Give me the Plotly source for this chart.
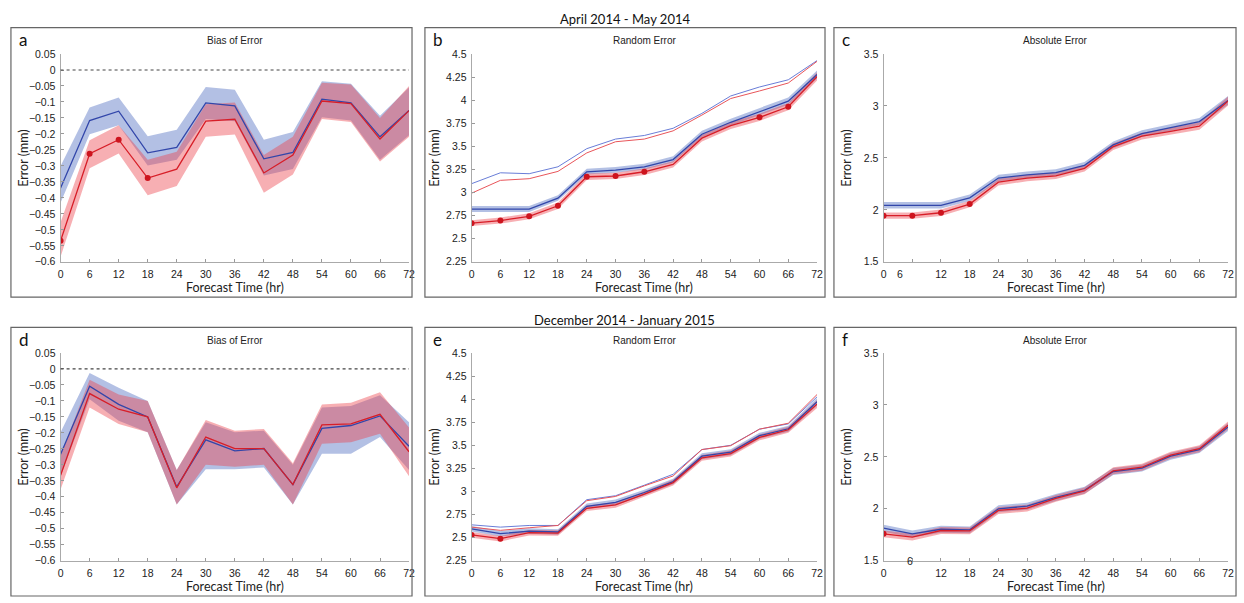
import plotly.graph_objects as go

# ---------------- data ----------------
hours = [0, 6, 12, 18, 24, 30, 36, 42, 48, 54, 60, 66, 72]

# (a) Bias of Error, April-May 2014
a_blue = [-0.369, -0.158, -0.129, -0.259, -0.242, -0.103, -0.112, -0.278, -0.258, -0.091, -0.103, -0.209, -0.127]
a_blue_hi = [-0.300, -0.117, -0.086, -0.207, -0.187, -0.053, -0.062, -0.218, -0.194, -0.035, -0.043, -0.143, -0.055]
a_blue_lo = [-0.415, -0.201, -0.173, -0.299, -0.281, -0.153, -0.160, -0.330, -0.310, -0.148, -0.158, -0.281, -0.204]
a_red = [-0.534, -0.262, -0.218, -0.338, -0.310, -0.160, -0.154, -0.322, -0.266, -0.097, -0.105, -0.216, -0.127]
a_red_hi = [-0.476, -0.220, -0.173, -0.281, -0.256, -0.107, -0.102, -0.266, -0.209, -0.040, -0.045, -0.150, -0.050]
a_red_lo = [-0.584, -0.307, -0.261, -0.392, -0.363, -0.209, -0.202, -0.384, -0.327, -0.153, -0.163, -0.286, -0.209]
a_sig = [0, 6, 12, 18]

# (b) Random Error, April-May 2014
b_blue_up = [3.096, 3.214, 3.204, 3.279, 3.475, 3.579, 3.618, 3.696, 3.857, 4.046, 4.143, 4.221, 4.429]
b_red_up = [2.993, 3.132, 3.150, 3.229, 3.429, 3.550, 3.579, 3.668, 3.839, 4.018, 4.100, 4.186, 4.421]
b_blue = [2.821, 2.821, 2.821, 2.939, 3.225, 3.243, 3.279, 3.357, 3.632, 3.761, 3.875, 3.989, 4.279]
b_blue_lo = [2.790, 2.790, 2.790, 2.910, 3.195, 3.213, 3.249, 3.325, 3.598, 3.725, 3.838, 3.952, 4.235]
b_blue_hi = [2.853, 2.853, 2.853, 2.970, 3.258, 3.276, 3.312, 3.392, 3.668, 3.800, 3.915, 4.030, 4.322]
b_red = [2.668, 2.696, 2.743, 2.857, 3.171, 3.179, 3.225, 3.304, 3.589, 3.725, 3.814, 3.929, 4.257]
b_red_lo = [2.637, 2.664, 2.710, 2.822, 3.137, 3.146, 3.191, 3.270, 3.552, 3.688, 3.776, 3.890, 4.212]
b_red_hi = [2.700, 2.729, 2.777, 2.893, 3.206, 3.213, 3.260, 3.340, 3.627, 3.763, 3.853, 3.969, 4.302]
b_sig = [0, 6, 12, 18, 24, 30, 36, 60, 66]

# (c) Absolute Error, April-May 2014
c_blue = [2.044, 2.044, 2.044, 2.116, 2.306, 2.337, 2.359, 2.428, 2.625, 2.734, 2.791, 2.850, 3.053]
c_blue_lo = [2.014, 2.014, 2.014, 2.086, 2.276, 2.307, 2.329, 2.397, 2.594, 2.703, 2.759, 2.817, 3.012]
c_blue_hi = [2.075, 2.075, 2.075, 2.147, 2.337, 2.368, 2.390, 2.460, 2.657, 2.766, 2.824, 2.884, 3.095]
c_red = [1.944, 1.944, 1.972, 2.056, 2.266, 2.306, 2.328, 2.400, 2.609, 2.709, 2.756, 2.806, 3.047]
c_red_lo = [1.914, 1.914, 1.942, 2.025, 2.235, 2.275, 2.297, 2.368, 2.577, 2.677, 2.723, 2.772, 3.005]
c_red_hi = [1.975, 1.975, 2.003, 2.088, 2.298, 2.338, 2.360, 2.432, 2.642, 2.742, 2.790, 2.841, 3.090]
c_sig = [0, 6, 12, 18]

# (d) Bias of Error, Dec 2014 - Jan 2015
d_blue = [-0.267, -0.054, -0.111, -0.150, -0.369, -0.222, -0.256, -0.249, -0.362, -0.186, -0.177, -0.147, -0.242]
d_blue_hi = [-0.198, -0.013, -0.059, -0.100, -0.316, -0.167, -0.198, -0.193, -0.300, -0.121, -0.116, -0.082, -0.167]
d_blue_lo = [-0.336, -0.095, -0.162, -0.198, -0.424, -0.314, -0.314, -0.308, -0.424, -0.265, -0.265, -0.213, -0.316]
d_red = [-0.333, -0.077, -0.126, -0.150, -0.372, -0.213, -0.249, -0.249, -0.362, -0.175, -0.172, -0.142, -0.259]
d_red_hi = [-0.270, -0.034, -0.080, -0.100, -0.316, -0.160, -0.193, -0.188, -0.295, -0.111, -0.106, -0.073, -0.183]
d_red_lo = [-0.377, -0.121, -0.172, -0.198, -0.424, -0.300, -0.306, -0.300, -0.424, -0.234, -0.229, -0.203, -0.336]
d_sig = []

# (e) Random Error, Dec 2014 - Jan 2015
e_blue_up = [2.639, 2.614, 2.632, 2.632, 2.911, 2.954, 3.068, 3.186, 3.454, 3.500, 3.675, 3.732, 4.025]
e_red_up = [2.614, 2.579, 2.607, 2.632, 2.900, 2.946, 3.061, 3.168, 3.454, 3.496, 3.675, 3.739, 4.050]
e_blue = [2.596, 2.543, 2.571, 2.561, 2.839, 2.882, 2.989, 3.107, 3.382, 3.425, 3.604, 3.679, 3.971]
e_blue_lo = [2.566, 2.513, 2.541, 2.531, 2.809, 2.852, 2.959, 3.077, 3.350, 3.393, 3.572, 3.646, 3.930]
e_blue_hi = [2.626, 2.573, 2.601, 2.591, 2.869, 2.912, 3.019, 3.137, 3.414, 3.457, 3.636, 3.712, 4.012]
e_red = [2.530, 2.489, 2.554, 2.550, 2.818, 2.854, 2.971, 3.096, 3.364, 3.411, 3.586, 3.668, 3.946]
e_red_lo = [2.500, 2.459, 2.524, 2.520, 2.788, 2.824, 2.941, 3.066, 3.332, 3.379, 3.554, 3.635, 3.905]
e_red_hi = [2.560, 2.519, 2.584, 2.580, 2.848, 2.884, 3.001, 3.126, 3.396, 3.443, 3.618, 3.701, 3.987]
e_sig = [0, 6]

# (f) Absolute Error, Dec 2014 - Jan 2015
f_blue = [1.813, 1.759, 1.803, 1.797, 2.000, 2.025, 2.109, 2.178, 2.359, 2.391, 2.506, 2.569, 2.788]
f_blue_lo = [1.780, 1.726, 1.770, 1.764, 1.967, 1.992, 2.076, 2.145, 2.326, 2.358, 2.473, 2.536, 2.750]
f_blue_hi = [1.846, 1.792, 1.836, 1.830, 2.033, 2.058, 2.142, 2.211, 2.392, 2.424, 2.539, 2.602, 2.826]
f_red = [1.759, 1.728, 1.791, 1.788, 1.984, 2.006, 2.100, 2.172, 2.366, 2.400, 2.516, 2.578, 2.803]
f_red_lo = [1.726, 1.695, 1.758, 1.755, 1.951, 1.973, 2.067, 2.139, 2.333, 2.367, 2.483, 2.545, 2.765]
f_red_hi = [1.792, 1.761, 1.824, 1.821, 2.017, 2.039, 2.133, 2.205, 2.399, 2.433, 2.549, 2.611, 2.841]
f_sig = [0]

bias_ticks = [0.05, 0, -0.05, -0.1, -0.15, -0.2, -0.25, -0.3, -0.35, -0.4, -0.45, -0.5, -0.55, -0.6]
rand_ticks = [2.25, 2.5, 2.75, 3, 3.25, 3.5, 3.75, 4, 4.25, 4.5]
abs_ticks = [1.5, 2, 2.5, 3, 3.5]

row_titles = ["April 2014 - May 2014", "December 2014 - January 2015"]
panel_titles = ["Bias of Error", "Random Error", "Absolute Error"]
panel_letters = ["a", "b", "c", "d", "e", "f"]

# ---------------- style ----------------
W, H = 1244, 603
BLUE_LINE = "rgb(50,70,170)"
RED_LINE = "rgb(215,30,40)"
BLUE_FILL = "rgba(75,105,190,0.42)"
RED_FILL = "rgba(235,65,75,0.42)"
BLUE_THIN = "rgb(105,125,215)"
RED_THIN = "rgb(232,85,90)"
TICK_FONT = dict(family="Liberation Sans, Arial, sans-serif", size=10.5, color="#222")
LAB_FONT = "Lato, Open Sans, sans-serif"

cols_px = [(58, 409), (472, 820), (887, 1234)]
rows_px = [(49, 261), (354, 566)]
frames_x = [(8, 412), (425, 828), (837, 1242)]
frames_y = [(22, 297), (328, 602)]


def fx(p):
    return p / W


def fy(p):
    return 1 - p / H


def fmt(v):
    s = ("%.2f" % v).rstrip("0").rstrip(".")
    if s == "-0":
        s = "0"
    return s.replace("-", "\u2212")


panels = [
    dict(blue=a_blue, blo=a_blue_lo, bhi=a_blue_hi, red=a_red, rlo=a_red_lo, rhi=a_red_hi, sig=a_sig,
         bup=None, rup=None, ticks=bias_ticks, rng=[-0.6, 0.05], zero=True),
    dict(blue=b_blue, blo=b_blue_lo, bhi=b_blue_hi, red=b_red, rlo=b_red_lo, rhi=b_red_hi, sig=b_sig,
         bup=b_blue_up, rup=b_red_up, ticks=rand_ticks, rng=[2.25, 4.5], zero=False),
    dict(blue=c_blue, blo=c_blue_lo, bhi=c_blue_hi, red=c_red, rlo=c_red_lo, rhi=c_red_hi, sig=c_sig,
         bup=None, rup=None, ticks=abs_ticks, rng=[1.5, 3.5], zero=False),
    dict(blue=d_blue, blo=d_blue_lo, bhi=d_blue_hi, red=d_red, rlo=d_red_lo, rhi=d_red_hi, sig=d_sig,
         bup=None, rup=None, ticks=bias_ticks, rng=[-0.6, 0.05], zero=True),
    dict(blue=e_blue, blo=e_blue_lo, bhi=e_blue_hi, red=e_red, rlo=e_red_lo, rhi=e_red_hi, sig=e_sig,
         bup=e_blue_up, rup=e_red_up, ticks=rand_ticks, rng=[2.25, 4.5], zero=False),
    dict(blue=f_blue, blo=f_blue_lo, bhi=f_blue_hi, red=f_red, rlo=f_red_lo, rhi=f_red_hi, sig=f_sig,
         bup=None, rup=None, ticks=abs_ticks, rng=[1.5, 3.5], zero=False),
]

fig = go.Figure()
shapes = []
annotations = []
layout_axes = {}

for i, p in enumerate(panels):
    n = i + 1
    r, c = divmod(i, 3)
    xa, ya = ("x%d" % n if n > 1 else "x"), ("y%d" % n if n > 1 else "y")

    def add(tr):
        tr.update(xaxis=xa, yaxis=ya, showlegend=False, hoverinfo="skip")
        fig.add_trace(tr)

    add(go.Scatter(x=hours + hours[::-1], y=p["bhi"] + p["blo"][::-1], fill="toself",
                   fillcolor=BLUE_FILL, line=dict(width=0), mode="lines"))
    add(go.Scatter(x=hours + hours[::-1], y=p["rhi"] + p["rlo"][::-1], fill="toself",
                   fillcolor=RED_FILL, line=dict(width=0), mode="lines"))
    if p["bup"] is not None:
        add(go.Scatter(x=hours, y=p["bup"], mode="lines", line=dict(color=BLUE_THIN, width=1)))
        add(go.Scatter(x=hours, y=p["rup"], mode="lines", line=dict(color=RED_THIN, width=1)))
    add(go.Scatter(x=hours, y=p["blue"], mode="lines", line=dict(color=BLUE_LINE, width=1.3)))
    add(go.Scatter(x=hours, y=p["red"], mode="lines", line=dict(color=RED_LINE, width=1.3)))
    if p["sig"]:
        sy = [p["red"][hours.index(h)] for h in p["sig"]]
        add(go.Scatter(x=p["sig"], y=sy, mode="markers",
                       marker=dict(color="rgb(205,20,30)", size=6)))

    x_tickvals = hours
    x_ticktext = [str(h) for h in hours]
    if c == 2:
        x_ticktext = [("" if h == 6 else str(h)) for h in hours]

    layout_axes["xaxis%d" % n if n > 1 else "xaxis"] = dict(
        domain=[fx(cols_px[c][0]), fx(cols_px[c][1])], range=[0, 72], anchor=ya,
        tickvals=x_tickvals, ticktext=x_ticktext, ticks="inside", ticklen=3,
        tickcolor="#999", showline=True, linecolor="#aaa", linewidth=1,
        showgrid=False, zeroline=False, tickfont=TICK_FONT, ticklabelstandoff=3,
        fixedrange=True)
    layout_axes["yaxis%d" % n if n > 1 else "yaxis"] = dict(
        domain=[fy(rows_px[r][1]), fy(rows_px[r][0])], range=p["rng"], anchor=xa,
        tickvals=p["ticks"], ticktext=[fmt(v) for v in p["ticks"]], ticks="inside",
        ticklen=3, tickcolor="#999", showline=True, linecolor="#aaa", linewidth=1,
        showgrid=False, zeroline=False, tickfont=TICK_FONT, ticklabelstandoff=2,
        fixedrange=True)

    if p["zero"]:
        shapes.append(dict(type="line", xref=xa + " domain", yref=ya, x0=0, x1=1, y0=0, y1=0,
                           line=dict(color="#444", width=1.2, dash="dot"), layer="above"))

    # frame
    shapes.append(dict(type="rect", xref="paper", yref="paper",
                       x0=fx(frames_x[c][0]), x1=fx(frames_x[c][1]),
                       y0=fy(frames_y[r][1]), y1=fy(frames_y[r][0]),
                       line=dict(color="#666", width=1.2), fillcolor="rgba(0,0,0,0)"))

    # panel letter
    annotations.append(dict(text=panel_letters[i], xref="paper", yref="paper",
                            x=fx(frames_x[c][0] + 6), y=fy(frames_y[r][0] + 12),
                            xanchor="left", yanchor="middle", showarrow=False,
                            font=dict(family=LAB_FONT, size=17, color="#111")))
    # panel title
    annotations.append(dict(text=panel_titles[c], xref="paper", yref="paper",
                            x=fx((cols_px[c][0] + cols_px[c][1]) / 2), y=fy(frames_y[r][0] + 13),
                            xanchor="center", yanchor="middle", showarrow=False,
                            font=dict(family="Liberation Sans, Arial, sans-serif", size=10, color="#222")))
    # axis titles
    annotations.append(dict(text="Forecast Time (hr)", xref="paper", yref="paper",
                            x=fx((cols_px[c][0] + cols_px[c][1]) / 2), y=fy(rows_px[r][1] + 26),
                            xanchor="center", yanchor="middle", showarrow=False,
                            font=dict(family=LAB_FONT, size=12.5, color="#222")))
    annotations.append(dict(text="Error (mm)", xref="paper", yref="paper",
                            x=fx(cols_px[c][0] - 37), y=fy((rows_px[r][0] + rows_px[r][1]) / 2),
                            xanchor="center", yanchor="middle", textangle=-90, showarrow=False,
                            font=dict(family=LAB_FONT, size=12.5, color="#222")))

# misplaced "6" labels in absolute-error panels
annotations.append(dict(text="6", xref="paper", yref="paper", x=fx(904), y=fy(273),
                        xanchor="center", yanchor="middle", showarrow=False, font=TICK_FONT))
annotations.append(dict(text="6", xref="paper", yref="paper", x=fx(914), y=fy(566),
                        xanchor="center", yanchor="middle", showarrow=False, font=TICK_FONT))

# row titles
annotations.append(dict(text=row_titles[0], xref="paper", yref="paper", x=fx(627), y=fy(13),
                        xanchor="center", yanchor="middle", showarrow=False,
                        font=dict(family=LAB_FONT, size=13, color="#111")))
annotations.append(dict(text=row_titles[1], xref="paper", yref="paper", x=fx(626), y=fy(320),
                        xanchor="center", yanchor="middle", showarrow=False,
                        font=dict(family=LAB_FONT, size=13, color="#111")))

fig.update_layout(width=W, height=H, margin=dict(l=0, r=0, t=0, b=0),
                  paper_bgcolor="white", plot_bgcolor="white", showlegend=False,
                  shapes=shapes, annotations=annotations, **layout_axes)

fig.write_html("out.html", config={"displayModeBar": False},
               post_script="document.body.style.margin='0';document.body.style.overflow='hidden';")
